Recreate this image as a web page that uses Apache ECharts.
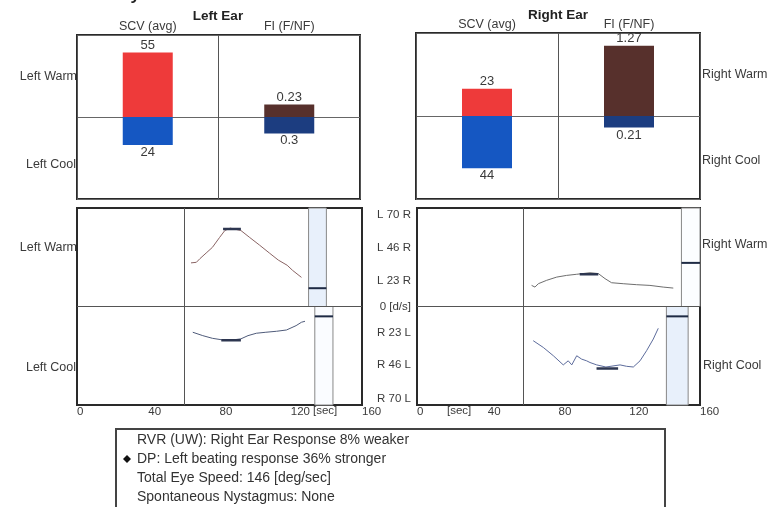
<!DOCTYPE html>
<html><head><meta charset="utf-8">
<script src="https://cdn.jsdelivr.net/npm/echarts@6/dist/echarts.min.js"></script>
<style>html,body{margin:0;padding:0;background:#fff;overflow:hidden}#c{width:769px;height:507px}</style>
</head><body><div id="c"></div>
<script>
// ---------- data ----------
const barCategories = ['SCV (avg)', 'FI (F/NF)'];
const leftWarmBars = [55, 0.23];   // [SCV, FI]
const leftCoolBars = [24, 0.3];
const rightWarmBars = [23, 1.27];
const rightCoolBars = [44, 0.21];

const timeTicks = [0, 40, 80, 120, 160];
const speedTicks = [70, 46, 23, 0, -23, -46, -70];
const speedTickLabels = ['L 70 R', 'L 46 R', 'L 23 R', '0 [d/s]', 'R 23 L', 'R 46 L', 'R 70 L'];

const leftWarmCurve = [[64,31],[67,31.4],[69,34],[72.5,38],[76,42],[80,49],[83,54],[86,55.7],[92,54],[97,49],[102.5,43.6],[108,38],[113,33],[118,29.3],[121,25.7],[126,20.7]];
const leftCoolCurve = [[65,-18.3],[70.6,-20.7],[76,-22.6],[81,-23.6],[86,-24],[92,-23],[96,-20.7],[100.7,-19],[106,-18.3],[112,-17.6],[117.6,-16.7],[123,-13.6],[126,-11.2],[128,-10.5]];
const rightWarmCurve = [[64.8,15],[66.7,13.8],[68.6,16.2],[73.3,18.6],[79,20.9],[84.6,22.1],[90.3,22.9],[97.8,24],[102.5,23.4],[106.3,19.8],[110,16.9],[116.6,16.2],[124.2,15.5],[131.7,15],[139.2,13.8],[144.9,13.1]];
const rightCoolCurve = [[65.7,-24.3],[71.4,-29.1],[77.1,-35],[82.7,-41.5],[85.5,-38.6],[87.5,-41.5],[90.3,-35],[93.1,-37.4],[95.9,-38.6],[97.8,-39.8],[101.6,-41.5],[106.8,-43],[114.8,-41.5],[118.5,-42.5],[122.3,-43],[126.1,-38.6],[129.8,-31.4],[133.6,-23.1],[136.4,-15.5]];

// peak markers [start, end] (level = SCV avg)
const leftWarmPeak = [82, 92];
const leftCoolPeak = [81, 92];
const rightWarmPeak = [92, 102.5];
const rightCoolPeak = [101.5, 113.7];

// fixation windows [start, end, level]
const leftWarmFix = [130, 140, 13];
const leftCoolFix = [133.5, 143.7, -7];
const rightWarmFix = [149.5, 160, 31];
const rightCoolFix = [141, 153.3, -7];

const infoLines = ['RVR (UW): Right Ear Response 8% weaker', 'DP: Left beating response 36% stronger', 'Total Eye Speed: 146 [deg/sec]', 'Spontaneous Nystagmus: None'];

// ---------- chart ----------
const FONT = 'Liberation Sans, Arial, sans-serif';
const TXT = '#3a3a3a';
const chart = echarts.init(document.getElementById('c'), null, {renderer: 'canvas'});

const gridBase = {show: true, borderColor: '#2a2a2a', borderWidth: 2, backgroundColor: 'transparent'};
const grids = [
  Object.assign({left: 77, top: 35, width: 283, height: 164}, gridBase),
  Object.assign({left: 416, top: 33, width: 284, height: 166}, gridBase),
  Object.assign({left: 77, top: 208, width: 285, height: 197}, gridBase),
  Object.assign({left: 417, top: 208, width: 283, height: 197}, gridBase)
];

function catAxis(gi) {
  return {type: 'category', gridIndex: gi, position: 'top', data: barCategories,
    axisLine: {show: false}, axisTick: {show: false},
    axisLabel: {color: TXT, fontSize: 12.5, margin: 2, fontFamily: FONT},
    splitLine: {show: true, lineStyle: {color: '#555', width: 1}}};
}
function timeAxis(gi) {
  return {type: 'value', gridIndex: gi, min: timeTicks[0], max: timeTicks[timeTicks.length - 1], interval: timeTicks[1] - timeTicks[0],
    axisLine: {show: false}, axisTick: {show: false}, splitLine: {show: false},
    axisLabel: {align: 'left', margin: 1, color: TXT, fontSize: 11.5, fontFamily: FONT, showMaxLabel: true, showMinLabel: true}};
}
function scvAxis(gi) {
  return {type: 'value', gridIndex: gi, min: -70, max: 70, interval: 70,
    axisLine: {show: false}, axisTick: {show: false}, axisLabel: {show: false},
    splitLine: {show: true, lineStyle: {color: '#666', width: 1}}};
}
function fiAxis(gi) {
  return {type: 'value', gridIndex: gi, min: -1.5, max: 1.5, show: false, splitLine: {show: false}};
}

const barLabel = (pos) => ({show: true, position: pos, distance: 1, color: TXT, fontSize: 13, fontFamily: FONT,
  formatter: p => String(Math.abs(p.value))});

function barSeries(xi, yiScv, yiFi, warm, cool, tag) {
  const common = {type: 'bar', xAxisIndex: xi, barWidth: 50, barGap: '-100%', silent: true};
  return [
    Object.assign({}, common, {yAxisIndex: yiScv, stack: 'scv' + tag, data: [warm[0], '-'], itemStyle: {color: '#ee3a3a'}, label: barLabel('top')}),
    Object.assign({}, common, {yAxisIndex: yiScv, stack: 'scv' + tag, data: [-cool[0], '-'], itemStyle: {color: '#1557c2'}, label: barLabel('bottom')}),
    Object.assign({}, common, {yAxisIndex: yiFi, stack: 'fi' + tag, data: ['-', warm[1]], itemStyle: {color: '#57302c'}, label: barLabel('top')}),
    Object.assign({}, common, {yAxisIndex: yiFi, stack: 'fi' + tag, data: ['-', -cool[1]], itemStyle: {color: '#1c3d80'}, label: barLabel('bottom')})
  ];
}

function lineSeries(xi, yi, data, color, width, extra) {
  return Object.assign({type: 'line', xAxisIndex: xi, yAxisIndex: yi, data: data, symbol: 'none', showSymbol: false,
    silent: true, animation: false, lineStyle: {color: color, width: width}}, extra || {});
}
function fixSeries(xi, yi, fix, fill) {
  const warm = fix[2] > 0;
  return lineSeries(xi, yi, [[fix[0], fix[2]], [fix[1], fix[2]]], '#1e2a44', 2, {
    z: 1,
    markArea: {silent: true, itemStyle: {color: fill, borderColor: '#888', borderWidth: 1},
      data: [[{xAxis: fix[0], yAxis: 0}, {xAxis: fix[1], yAxis: warm ? 70 : -70}]]}
  });
}
function peakSeries(xi, yi, pk, level) {
  return lineSeries(xi, yi, [[pk[0], level], [pk[1], level]], '#2d3650', 2.5, {z: 4});
}
const refLines = {silent: true, symbol: 'none', animation: false, label: {show: false},
  lineStyle: {color: '#555', width: 1, type: 'solid'}, data: [{yAxis: 0}, {xAxis: 60}]};

const series = [].concat(
  barSeries(0, 0, 1, leftWarmBars, leftCoolBars, 'L'),
  barSeries(1, 2, 3, rightWarmBars, rightCoolBars, 'R'),
  [
    fixSeries(2, 4, leftWarmFix, '#e8f0fb'),
    fixSeries(2, 4, leftCoolFix, '#fafcff'),
    fixSeries(3, 5, rightWarmFix, '#fcfdff'),
    fixSeries(3, 5, rightCoolFix, '#e8f0fb'),
    lineSeries(2, 4, leftWarmCurve, '#8a6464', 1, {z: 3, markLine: refLines}),
    lineSeries(2, 4, leftCoolCurve, '#4f5b7a', 1, {z: 3}),
    lineSeries(3, 5, rightWarmCurve, '#6e6e6e', 1, {z: 3, markLine: refLines}),
    lineSeries(3, 5, rightCoolCurve, '#5d6c9c', 1, {z: 3}),
    peakSeries(2, 4, leftWarmPeak, leftWarmBars[0]),
    peakSeries(2, 4, leftCoolPeak, -leftCoolBars[0]),
    peakSeries(3, 5, rightWarmPeak, rightWarmBars[0]),
    peakSeries(3, 5, rightCoolPeak, -rightCoolBars[0])
  ]
);

function txt(text, x, y, align, size, bold, fill) {
  return {type: 'text', x: x, y: y, silent: true, z: 10,
    style: {text: text, fill: fill || TXT, font: (bold ? 'bold ' : '') + size + 'px ' + FONT,
      textAlign: align, align: align, textVerticalAlign: 'middle', verticalAlign: 'middle'}};
}

const graphics = [
  txt('Caloric Summary', 0, -5, 'left', 17, true, '#222'),
  txt('Left Ear', 218, 16, 'center', 13.5, true, '#222'),
  txt('Right Ear', 558, 15, 'center', 13.5, true, '#222'),
  txt('Left Warm', 77, 77, 'right', 12.5),
  txt('Left Cool', 76, 165, 'right', 12.5),
  txt('Left Warm', 77, 248, 'right', 12.5),
  txt('Left Cool', 76, 368, 'right', 12.5),
  txt('Right Warm', 702, 75, 'left', 12.5),
  txt('Right Cool', 702, 161, 'left', 12.5),
  txt('Right Warm', 702, 245, 'left', 12.5),
  txt('Right Cool', 703, 366, 'left', 12.5),
  txt('[sec]', 313, 411, 'left', 11.5),
  txt('[sec]', 447, 411, 'left', 11.5),
  {type: 'rect', silent: true, shape: {x: 116, y: 429, width: 549, height: 95}, style: {fill: 'none', stroke: '#444', lineWidth: 2}},
  {type: 'polygon', silent: true, shape: {points: [[127, 455], [131, 459], [127, 463], [123, 459]]}, style: {fill: '#111'}}
];
infoLines.forEach((t, i) => graphics.push(txt(t, 137, 440 + i * 19, 'left', 14, false, '#333')));

chart.setOption({
  animation: false,
  backgroundColor: '#fff',
  textStyle: {fontFamily: FONT},
  grid: grids,
  xAxis: [catAxis(0), catAxis(1), timeAxis(2), timeAxis(3)],
  yAxis: [scvAxis(0), fiAxis(0), scvAxis(1), fiAxis(1),
    {type: 'value', gridIndex: 2, min: -70, max: 70, position: 'right',
      axisLine: {show: false}, axisTick: {show: false, customValues: speedTicks}, splitLine: {show: false},
      axisLabel: {customValues: speedTicks, align: 'right', margin: 49, color: TXT, fontSize: 11.5, fontFamily: FONT, lineHeight: 13,
        formatter: v => {
          const i = speedTicks.indexOf(Math.round(v));
          const s = i >= 0 ? speedTickLabels[i] : '';
          return v > 0 ? '\n' + s : (v < 0 ? s + '\n' : s);
        }}},
    {type: 'value', gridIndex: 3, min: -70, max: 70, show: false, splitLine: {show: false}}
  ],
  series: series,
  graphic: graphics
});
</script></body></html>
